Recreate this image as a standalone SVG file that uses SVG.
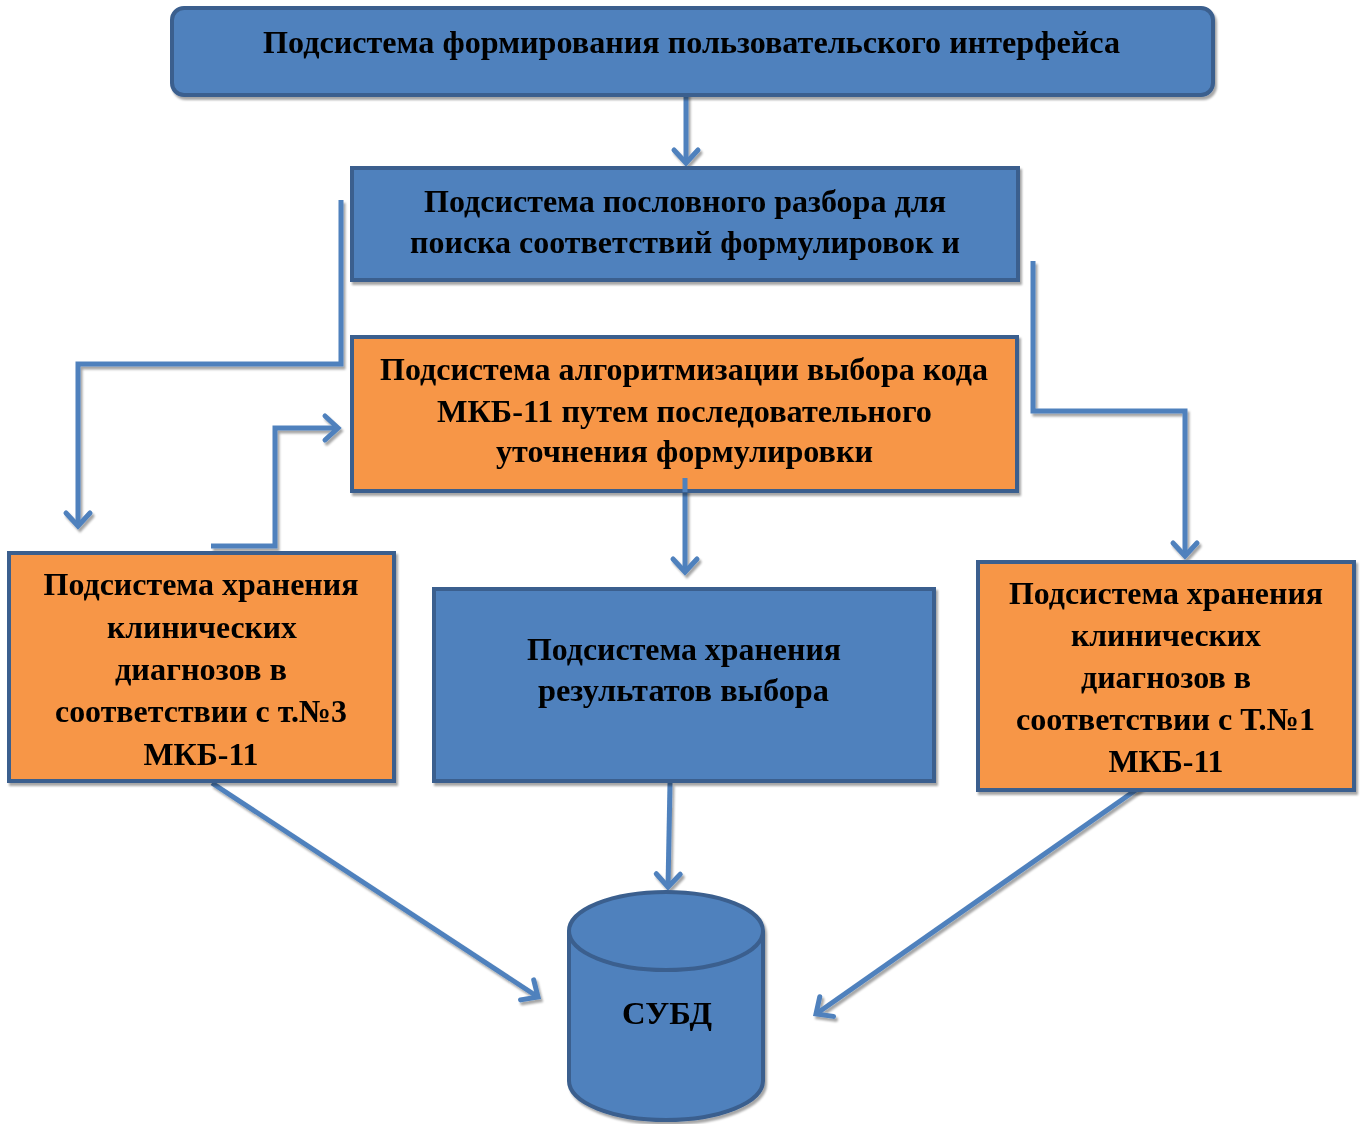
<svg xmlns="http://www.w3.org/2000/svg" width="1361" height="1124" viewBox="0 0 1361 1124">
<style>
.blue{fill:#4F81BD;stroke:#3A5F8E;stroke-width:4}
.orange{fill:#F79646;stroke:#3A5F8E;stroke-width:4}
.t{font-family:"Liberation Serif","Times New Roman",serif;font-weight:bold;font-size:32px;fill:#000;text-anchor:middle}
.c{fill:none;stroke:#4F81BD;stroke-width:5}
</style>
<defs>
<marker id="ah" markerUnits="userSpaceOnUse" markerWidth="30" markerHeight="30" refX="0" refY="0" viewBox="-16 -15 20 30" orient="auto" overflow="visible">
<path d="M-13,-12 L0,0 L-13,12" fill="none" stroke="#4F81BD" stroke-width="5" stroke-linecap="round" stroke-linejoin="miter"/>
</marker>
<filter id="sh" x="-20%" y="-20%" width="140%" height="140%">
<feDropShadow dx="2" dy="3" stdDeviation="1" flood-color="#000" flood-opacity="0.35"/>
</filter>
</defs>

<g id="connectors" filter="url(#sh)">
<path class="c" d="M686,62 V163" marker-end="url(#ah)"/>
<path class="c" d="M341,200 V364 H78 V526" marker-end="url(#ah)"/>
<path class="c" d="M211,546 H275 V428 H338" marker-end="url(#ah)"/>
<path class="c" d="M1033,261 V411 H1185 V556" marker-end="url(#ah)"/>
<path class="c" d="M685,478 V572" marker-end="url(#ah)"/>
<path class="c" d="M670,783 L668,887" marker-end="url(#ah)"/>
<path class="c" d="M212,783 L538,997" marker-end="url(#ah)"/>
<path class="c" d="M1143,785 L816,1014" marker-end="url(#ah)"/>
</g>

<g id="node-ui" filter="url(#sh)">
<rect class="blue" x="172" y="8" width="1041" height="87" rx="12"/>
<text class="t" x="691.5" y="53" textLength="857" lengthAdjust="spacingAndGlyphs">Подсистема формирования пользовательского интерфейса</text>
</g>
<g id="ui-connector-start" filter="url(#sh)"><path class="c" d="M686,62 V96"/></g>

<g id="node-parse" filter="url(#sh)">
<rect class="blue" x="352" y="168" width="666" height="112"/>
<text class="t" x="685" y="212" textLength="522" lengthAdjust="spacingAndGlyphs">Подсистема пословного разбора для</text>
<text class="t" x="685" y="253" textLength="550" lengthAdjust="spacingAndGlyphs">поиска соответствий формулировок и</text>
</g>

<g id="node-algo" filter="url(#sh)">
<rect class="orange" x="352" y="337" width="665" height="154"/>
<text class="t" x="684" y="380" textLength="608" lengthAdjust="spacingAndGlyphs">Подсистема алгоритмизации выбора кода</text>
<text class="t" x="684.5" y="422" textLength="495" lengthAdjust="spacingAndGlyphs">МКБ-11 путем последовательного</text>
<text class="t" x="684.5" y="462" textLength="377" lengthAdjust="spacingAndGlyphs">уточнения формулировки</text>
</g>
<g id="algo-connector-start"><path class="c" d="M685,478 V492"/></g>

<g id="node-left" filter="url(#sh)">
<rect class="orange" x="9" y="553" width="385" height="228"/>
<text class="t" x="201" y="595" textLength="315" lengthAdjust="spacingAndGlyphs">Подсистема хранения</text>
<text class="t" x="202" y="638" textLength="190" lengthAdjust="spacingAndGlyphs">клинических</text>
<text class="t" x="201" y="680" textLength="172" lengthAdjust="spacingAndGlyphs">диагнозов в</text>
<text class="t" x="201" y="722" textLength="292" lengthAdjust="spacingAndGlyphs">соответствии с т.№3</text>
<text class="t" x="201" y="765" textLength="115" lengthAdjust="spacingAndGlyphs">МКБ-11</text>
</g>

<g id="node-results" filter="url(#sh)">
<rect class="blue" x="434" y="589" width="500" height="192"/>
<text class="t" x="684" y="660" textLength="314" lengthAdjust="spacingAndGlyphs">Подсистема хранения</text>
<text class="t" x="683.5" y="701" textLength="291" lengthAdjust="spacingAndGlyphs">результатов выбора</text>
</g>

<g id="node-right" filter="url(#sh)">
<rect class="orange" x="978" y="562" width="376" height="228"/>
<text class="t" x="1166" y="604" textLength="314" lengthAdjust="spacingAndGlyphs">Подсистема хранения</text>
<text class="t" x="1166" y="646" textLength="190" lengthAdjust="spacingAndGlyphs">клинических</text>
<text class="t" x="1166" y="688" textLength="170" lengthAdjust="spacingAndGlyphs">диагнозов в</text>
<text class="t" x="1165.5" y="730" textLength="299" lengthAdjust="spacingAndGlyphs">соответствии с Т.№1</text>
<text class="t" x="1166" y="772" textLength="115" lengthAdjust="spacingAndGlyphs">МКБ-11</text>
</g>

<g id="node-dbms" filter="url(#sh)">
<path class="blue" d="M569,931 V1081 A97,39 0 0 0 763,1081 V931 A97,39 0 0 0 569,931 Z"/>
<path d="M569,931 A97,39 0 0 0 763,931" fill="none" stroke="#3A5F8E" stroke-width="4"/>
<text class="t" x="667" y="1024" textLength="90" lengthAdjust="spacingAndGlyphs">СУБД</text>
</g>
</svg>
